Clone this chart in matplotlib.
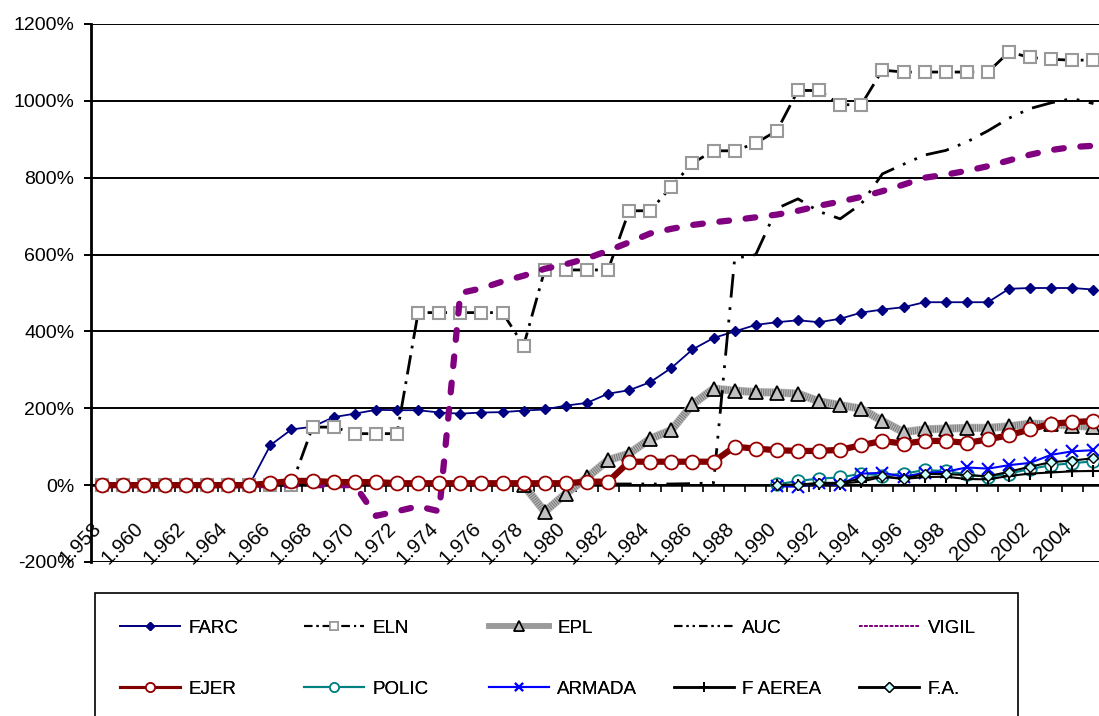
import numpy as np
import matplotlib
matplotlib.use("Agg")
import matplotlib.pyplot as plt
from matplotlib.patches import Rectangle
from matplotlib.lines import Line2D

plt.rcParams["font.family"] = ["Liberation Sans", "DejaVu Sans"]
plt.rcParams["lines.scale_dashes"] = False

nan = np.nan
years = list(range(1958, 2006))

farc = [0, 0, 0, 0, 0, 0, 0, 0,
        104, 145, 152, 177, 186, 196, 195, 195, 189, 186,
        189, 190, 194, 197, 207, 214, 238, 247, 268, 305,
        353, 383, 400, 417, 424, 429, 424, 433, 449, 457,
        463, 476, 476, 476, 476, 511, 513, 513, 513, 509]
eln = [0, 0, 0, 0, 0, 0, 0, 0, 0, 0,
       151, 151, 134, 134, 134, 449, 449, 449, 449, 449,
       363, 560, 560, 560, 560, 714, 714, 777, 838, 870,
       870, 890, 922, 1027, 1027, 990, 990, 1080, 1075, 1075,
       1075, 1075, 1075, 1127, 1113, 1108, 1106, 1106]
epl = [nan] * 20 + [0, -69, -22, 20, 65, 82, 121, 143, 210, 251,
                    246, 242, 241, 238, 218, 208, 199, 167, 138, 145,
                    147, 149, 149, 153, 160, 158, 155, 152]
auc = [nan] * 24 + [3, 3, 3, 3, 4, 6, 590, 600, 720, 745,
                    712, 693, 732, 810, 835, 859, 871, 893, 922, 955,
                    980, 995, 1006, 993]
vigil = [0] * 13 + [-80, -68, -55, -68, 500, 512, 530, 545, 563, 575,
                    590, 610, 632, 655, 667, 677, 684, 690, 697, 704,
                    714, 727, 738, 750, 765, 782, 800, 808, 818, 830,
                    845, 860, 872, 880, 883]
ejer = [0, 0, 0, 0, 0, 0, 0, 0,
        5, 11, 11, 8, 8, 8, 5, 5, 5, 5,
        5, 5, 5, 5, 5, 9, 9, 61, 61, 61,
        61, 61, 100, 95, 91, 89, 89, 92, 104, 115,
        108, 115, 115, 110, 119, 130, 145, 160, 164, 167]
polic = [nan] * 32 + [2, 11, 17, 20, 30, 25, 30, 39, 37, 28, 21, 30, 42, 52, 57, 62]
armada = [nan] * 32 + [-3, -4, 5, 0, 30, 32, 22, 32, 35, 46, 43, 52, 58, 79, 88, 91]
faerea = [nan] * 32 + [0, 0, 3, 4, 9, 22, 16, 21, 22, 16, 15, 24, 30, 33, 36, 37]
fa = [nan] * 32 + [1, 1, 6, 6, 17, 23, 17, 29, 29, 26, 23, 35, 48, 60, 64, 70]

yticks = list(range(-200, 1201, 200))
xlabels = [f"{y // 1000}.{y % 1000:03d}" if y < 2000 else str(y) for y in years[::2]]

W, H = 1099, 716
fig = plt.figure(figsize=(W / 100, H / 100), dpi=100)
ax = fig.add_axes([91 / W, 154 / H, 1013 / W, 538 / H])
x = np.arange(len(years))

# spine position first: it resets the tick objects
ax.spines["bottom"].set_position(("data", 0))
ax.spines["bottom"].set_linewidth(1.8)
ax.spines["left"].set_linewidth(2)
ax.spines["top"].set_visible(False)
ax.spines["right"].set_visible(False)

ax.plot(x, farc, color="#000080", lw=1.3, marker="D", ms=5.5, zorder=3)
ax.plot(x, eln, color="black", lw=2.0, dashes=(14, 5, 2, 5),
        marker="s", ms=8.5, mfc="white", mec="#999999", mew=1.5, zorder=3)
ax.plot(x, epl, color="#bdbdbd", lw=6, zorder=3)
ax.plot(x, epl, color="#7a7a7a", lw=5, dashes=(0.8, 0.8), zorder=3)
ax.plot(x, epl, ls="none", marker="^", ms=10, mfc="#c0c0c0", mec="black", mew=1.3, zorder=3)
ax.plot(x, auc, color="black", lw=2.0, dashes=(17, 7, 2, 7, 2, 7), zorder=3)
ax.plot(x, vigil, color="#800080", lw=4.5, dashes=(7, 12), dash_capstyle="round", zorder=3)
ax.plot(x, ejer, color="#800000", lw=4.5, marker="o", ms=10,
        mfc="white", mec="#990000", mew=1.3, zorder=3)
ax.plot(x, polic, color="#008080", lw=1.5, marker="o", ms=9,
        mfc="white", mec="#008080", mew=1.3, zorder=3)
ax.plot(x, armada, color="#0000ff", lw=1.5, marker="x", ms=8, mew=1.5, zorder=3)
ax.plot(x, faerea, color="black", lw=1.5, marker="+", ms=8, mew=1.5, zorder=3)
ax.plot(x, fa, color="black", lw=1.5, marker="D", ms=5.5,
        mfc="#ccffff", mec="black", mew=1, zorder=3)

ax.set_xlim(-0.5, len(years) - 0.5)
ax.set_ylim(-200, 1200)
ax.set_yticks(yticks)
ax.set_yticklabels([f"{v}%" for v in yticks], fontsize=14)
ax.yaxis.grid(True, color="black", lw=1.4)
ax.set_axisbelow(True)
ax.tick_params(axis="y", length=5, width=1.4, pad=7)

ax.set_xticks(np.arange(-0.5, len(years), 1))
ax.set_xticklabels([])
ax.tick_params(axis="x", which="major", length=5, width=1.2, direction="out")
ax.set_xticks(x[::2] + 0.15, minor=True)
ax.tick_params(axis="x", which="minor", length=0, pad=24)
ax.set_xticklabels(xlabels, minor=True, fontsize=14.5, rotation=45, ha="right", va="top")

fig.add_artist(Rectangle((95 / W, -0.05), (1018 - 95) / W, (716 - 593) / H + 0.05,
                         transform=fig.transFigure, fill=False, ec="black", lw=1.2))

# legend samples (thinner than the plotted lines, like the original legend)
handles = [
    Line2D([], [], color="#000080", lw=1.3, marker="D", ms=4.5),
    Line2D([], [], color="black", lw=1.5, dashes=(6, 3, 1.5, 3), marker="s", ms=6,
           mfc="white", mec="#999999", mew=1.2),
    Line2D([], [], color="#9a9a9a", lw=4, marker="^", ms=7, mfc="#c0c0c0", mec="black", mew=1.2),
    Line2D([], [], color="black", lw=1.5, dashes=(6, 3, 1.5, 3, 1.5, 3)),
    Line2D([], [], color="#800080", lw=1.3, dashes=(2.5, 1.2)),
    Line2D([], [], color="#800000", lw=2.2, marker="o", ms=6.5, mfc="white", mec="#990000", mew=1.2),
    Line2D([], [], color="#008080", lw=1.5, marker="o", ms=6.5, mfc="white", mec="#008080", mew=1.2),
    Line2D([], [], color="#0000ff", lw=1.5, marker="x", ms=6, mew=1.5),
    Line2D([], [], color="black", lw=1.8, marker="+", ms=7, mew=1.2),
    Line2D([], [], color="black", lw=1.8, marker="D", ms=5, mfc="#ccffff", mec="black", mew=1),
]
names = ["FARC", "ELN", "EPL", "AUC", "VIGIL", "EJER", "POLIC", "ARMADA", "F AEREA", "F.A."]
col_x = [120, 304, 489, 674, 859]
row_y = [628, 689]
for i, (h, lab) in enumerate(zip(handles, names)):
    leg = fig.legend([h], [lab], loc="center left",
                     bbox_to_anchor=(col_x[i % 5] / W, 1 - row_y[i // 5] / H),
                     frameon=False, fontsize=13.5, handlelength=3.2, handletextpad=0.45,
                     borderpad=0, borderaxespad=0, numpoints=1)
    fig.add_artist(leg)

fig.savefig("out.png", dpi=100)
